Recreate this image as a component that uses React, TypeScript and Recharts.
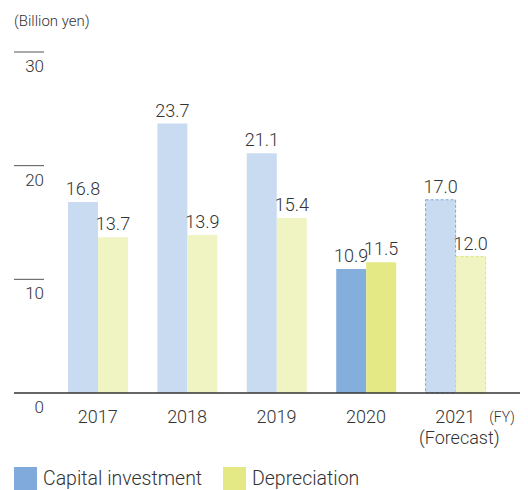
import { Bar, BarChart, Cell, LabelList, XAxis, YAxis } from "recharts";

const years = ["2017", "2018", "2019", "2020", "2021"];
const capitalInvestment = [16.8, 23.7, 21.1, 10.9, 17.0];
const depreciation = [13.7, 13.9, 15.4, 11.5, 12.0];
const yTicks = [0, 10, 20, 30];
const seriesNames = ["Capital investment", "Depreciation"];
const currentYear = "2020";
const forecastYear = "2021";

const data = years.map((year, i) => ({
    year,
    capital: capitalInvestment[i],
    depreciation: depreciation[i],
}));

const font = "Roboto, 'Noto Sans', sans-serif";
const textColor = "#333";
const weight = 300;

const colors = {
    capital: { past: "#c9dbf0", current: "#84afdd", line: "#7aa8de" },
    depreciation: { past: "#f0f3c2", current: "#e4e985", line: "#e0e57a" },
};

const YTick = (props: any) => {
    const { y, payload } = props;
    return (
        <g>
            {payload.value !== 0 && (
                <line x1={6} x2={36} y1={y} y2={y} stroke="#555" strokeWidth={1} />
            )}
            <text x={36} y={y + 20} textAnchor="end" fontSize={17} fontWeight={weight} fontFamily={font} fill={textColor}>
                {payload.value}
            </text>
        </g>
    );
};

const XTick = (props: any) => {
    const { x, y, payload } = props;
    return (
        <g>
            <text x={x} y={y + 22} textAnchor="middle" fontSize={18} fontWeight={weight} fontFamily={font} fill={textColor}>
                {payload.value}
            </text>
            {payload.value === forecastYear && (
                <>
                    <text x={x + 34} y={y + 21} fontSize={14} fontWeight={weight} fontFamily={font} fill={textColor}>
                        (FY)
                    </text>
                    <text x={x + 4} y={y + 43} textAnchor="middle" fontSize={18} fontWeight={weight} fontFamily={font} fill={textColor}>
                        (Forecast)
                    </text>
                </>
            )}
        </g>
    );
};

const cellStyle = (year: string, key: "capital" | "depreciation") => {
    const c = colors[key];
    if (year === currentYear) return { fill: c.current };
    if (year === forecastYear) return { fill: c.past, stroke: c.line, strokeDasharray: "3 2", strokeWidth: 1 };
    return { fill: c.past };
};

export default function App() {
    return (
        <div style={{ position: "relative", width: 520, height: 482 }}>
            <div style={{ position: "absolute", left: 6, top: 4, fontSize: 15, fontWeight: weight, fontFamily: font, color: textColor }}>
                (Billion yen)
            </div>
            <BarChart
                width={520}
                height={482}
                data={data}
                barSize={30}
                barGap={0}
                margin={{ top: 44, right: 0, left: 5, bottom: 37 }}
            >
                <YAxis
                    width={1}
                    domain={[0, 30]}
                    ticks={yTicks}
                    axisLine={false}
                    tickLine={false}
                    tick={<YTick />}
                    interval={0}
                />
                <XAxis
                    dataKey="year"
                    height={60}
                    padding={{ left: 39, right: 28 }}
                    axisLine={{ stroke: "#333", strokeWidth: 1.5 }}
                    tickLine={false}
                    tick={<XTick />}
                    interval={0}
                />
                <Bar dataKey="capital" isAnimationActive={false}>
                    {data.map((d) => (
                        <Cell key={d.year} {...cellStyle(d.year, "capital")} />
                    ))}
                    <LabelList
                        dataKey="capital"
                        position="top"
                        offset={7}
                        formatter={(v: any) => Number(v).toFixed(1)}
                        style={{ fontSize: 18, fontWeight: weight, fontFamily: font, fill: textColor }}
                    />
                </Bar>
                <Bar dataKey="depreciation" isAnimationActive={false}>
                    {data.map((d) => (
                        <Cell key={d.year} {...cellStyle(d.year, "depreciation")} />
                    ))}
                    <LabelList
                        dataKey="depreciation"
                        position="top"
                        offset={7}
                        formatter={(v: any) => Number(v).toFixed(1)}
                        style={{ fontSize: 18, fontWeight: weight, fontFamily: font, fill: textColor }}
                    />
                </Bar>
            </BarChart>
            <div style={{ position: "absolute", left: 6, top: 459, display: "flex", alignItems: "center", fontFamily: font, fontWeight: weight, fontSize: 19.5, color: textColor }}>
                {seriesNames.map((name, i) => (
                    <div key={name} style={{ display: "flex", alignItems: "center", width: i === 0 ? 209 : "auto" }}>
                        <span style={{ display: "inline-block", width: 23, height: 23, background: i === 0 ? "#80aadb" : "#e4e985", marginRight: 6 }} />
                        {name}
                    </div>
                ))}
            </div>
        </div>
    );
}
